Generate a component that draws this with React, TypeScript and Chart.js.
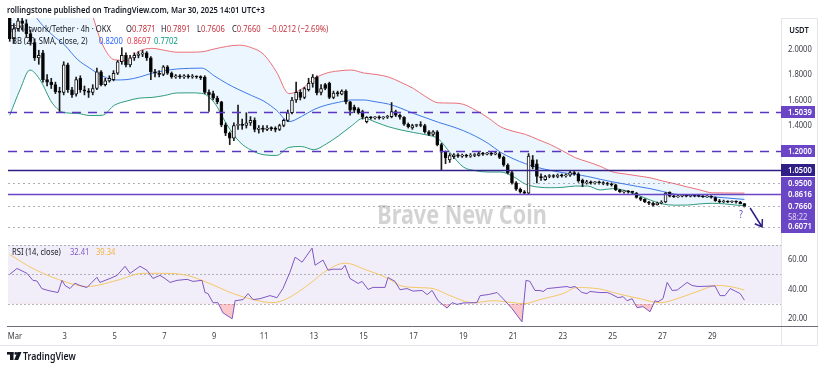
import React, { useEffect, useRef } from 'react';
import { Chart, registerables } from 'chart.js';

Chart.register(...registerables);

// ---- time: day number where Mar 1 00:00 = 1 ----
const firstCandleDay = 0.79; // Feb 28 19:00 (UTC+3)
const candleStepDay = 1 / 6; // 4h candles

// ---- OHLC (Pi Network / Tether, 4h, OKX) ----
const opens = [
  2.25, 2.08, 2.16, 2.22, 2.20, 2.12, 2.05, 1.93, 1.97, 1.76,
  1.74, 1.72, 1.665, 1.66, 1.875, 1.68, 1.645, 1.77, 1.68, 1.67,
  1.66, 1.69, 1.82, 1.72, 1.75, 1.76, 1.81, 1.90, 1.95, 1.875,
  1.93, 1.95, 1.96, 1.97, 1.93, 1.82, 1.81, 1.80, 1.86, 1.81,
  1.78, 1.79, 1.78, 1.79, 1.78, 1.785, 1.78, 1.78, 1.66, 1.65,
  1.615, 1.585, 1.405, 1.34, 1.30, 1.40, 1.41, 1.40, 1.42, 1.44,
  1.37, 1.38, 1.37, 1.38, 1.375, 1.37, 1.40, 1.44, 1.50, 1.60,
  1.66, 1.62, 1.68, 1.73, 1.78, 1.66, 1.72, 1.73, 1.62, 1.655,
  1.645, 1.67, 1.585, 1.545, 1.53, 1.51, 1.43, 1.465, 1.46, 1.465,
  1.46, 1.465, 1.47, 1.51, 1.48, 1.465, 1.41, 1.38, 1.40, 1.405,
  1.40, 1.35, 1.33, 1.35, 1.25, 1.19, 1.13, 1.155, 1.17, 1.16,
  1.165, 1.16, 1.165, 1.165, 1.18, 1.175, 1.18, 1.175, 1.18, 1.15,
  1.09, 1.03, 0.95, 0.90, 0.88, 0.87, 1.13, 1.10, 1.00, 0.975,
  1.00, 1.005, 1.00, 1.01, 1.005, 1.01, 1.03, 1.02, 0.97, 0.95,
  0.955, 0.95, 0.955, 0.95, 0.945, 0.94, 0.935, 0.895, 0.88, 0.885,
  0.88, 0.87, 0.835, 0.82, 0.80, 0.79, 0.78, 0.79, 0.80, 0.875,
  0.845, 0.84, 0.845, 0.85, 0.845, 0.85, 0.848, 0.845, 0.84, 0.842,
  0.835, 0.81, 0.80, 0.805, 0.80, 0.805, 0.80, 0.7871,
];
const highs = [
  2.28, 2.20, 2.26, 2.27, 2.23, 2.15, 2.08, 1.99, 1.99, 1.80,
  1.77, 1.74, 1.70, 1.90, 1.89, 1.70, 1.78, 1.79, 1.71, 1.69,
  1.72, 1.85, 1.83, 1.77, 1.79, 1.83, 1.91, 2.01, 1.97, 1.95,
  1.97, 1.98, 1.99, 1.98, 1.94, 1.84, 1.83, 1.87, 1.87, 1.82,
  1.80, 1.80, 1.80, 1.80, 1.80, 1.79, 1.79, 1.79, 1.68, 1.67,
  1.63, 1.59, 1.42, 1.35, 1.42, 1.56, 1.45, 1.50, 1.47, 1.46,
  1.40, 1.40, 1.40, 1.39, 1.39, 1.41, 1.45, 1.52, 1.62, 1.74,
  1.68, 1.70, 1.77, 1.80, 1.79, 1.72, 1.73, 1.74, 1.67, 1.67,
  1.68, 1.68, 1.59, 1.56, 1.54, 1.52, 1.47, 1.47, 1.47, 1.475,
  1.47, 1.48, 1.58, 1.52, 1.49, 1.47, 1.42, 1.41, 1.41, 1.43,
  1.41, 1.36, 1.36, 1.36, 1.26, 1.20, 1.18, 1.18, 1.18, 1.175,
  1.175, 1.18, 1.18, 1.19, 1.19, 1.19, 1.19, 1.19, 1.19, 1.16,
  1.10, 1.04, 0.96, 0.91, 0.89, 1.18, 1.165, 1.13, 1.02, 1.01,
  1.015, 1.015, 1.02, 1.02, 1.02, 1.04, 1.04, 1.03, 0.98, 0.97,
  0.965, 0.96, 0.965, 0.96, 0.955, 0.95, 0.94, 0.90, 0.89, 0.89,
  0.885, 0.875, 0.84, 0.825, 0.805, 0.80, 0.80, 0.81, 0.875, 0.88,
  0.855, 0.855, 0.86, 0.855, 0.86, 0.855, 0.855, 0.85, 0.85, 0.85,
  0.84, 0.82, 0.815, 0.81, 0.81, 0.81, 0.805, 0.7891,
];
const lows = [
  2.06, 2.05, 2.14, 2.15, 2.09, 2.03, 1.91, 1.88, 1.74, 1.71,
  1.69, 1.65, 1.51, 1.64, 1.66, 1.62, 1.63, 1.66, 1.64, 1.62,
  1.64, 1.68, 1.71, 1.71, 1.74, 1.75, 1.80, 1.88, 1.86, 1.86,
  1.91, 1.93, 1.94, 1.91, 1.76, 1.78, 1.78, 1.79, 1.80, 1.77,
  1.77, 1.77, 1.77, 1.77, 1.77, 1.77, 1.76, 1.65, 1.51, 1.60,
  1.57, 1.39, 1.32, 1.25, 1.28, 1.37, 1.37, 1.38, 1.40, 1.35,
  1.34, 1.35, 1.36, 1.36, 1.35, 1.36, 1.39, 1.43, 1.49, 1.58,
  1.60, 1.61, 1.67, 1.70, 1.64, 1.64, 1.68, 1.61, 1.61, 1.63,
  1.64, 1.57, 1.48, 1.50, 1.49, 1.45, 1.42, 1.45, 1.45, 1.45,
  1.45, 1.455, 1.46, 1.47, 1.45, 1.40, 1.38, 1.37, 1.39, 1.39,
  1.34, 1.32, 1.32, 1.24, 1.05, 1.10, 1.11, 1.14, 1.15, 1.15,
  1.15, 1.15, 1.155, 1.16, 1.165, 1.17, 1.165, 1.17, 1.14, 1.08,
  1.02, 0.94, 0.89, 0.87, 0.86, 0.86, 1.06, 0.95, 0.97, 0.97,
  0.99, 0.99, 0.99, 0.995, 0.995, 1.00, 1.01, 0.955, 0.92, 0.94,
  0.94, 0.94, 0.94, 0.935, 0.93, 0.925, 0.89, 0.875, 0.87, 0.87,
  0.865, 0.83, 0.81, 0.795, 0.78, 0.765, 0.775, 0.785, 0.795, 0.84,
  0.835, 0.835, 0.84, 0.84, 0.84, 0.84, 0.84, 0.835, 0.835, 0.83,
  0.805, 0.795, 0.795, 0.795, 0.795, 0.79, 0.785, 0.7606,
];
const closes = [
  2.08, 2.16, 2.22, 2.20, 2.12, 2.06, 1.93, 1.95, 1.76, 1.74,
  1.72, 1.665, 1.66, 1.875, 1.68, 1.64, 1.76, 1.68, 1.67, 1.66,
  1.69, 1.82, 1.72, 1.75, 1.77, 1.81, 1.90, 1.95, 1.875, 1.93,
  1.95, 1.96, 1.97, 1.93, 1.82, 1.81, 1.80, 1.86, 1.81, 1.78,
  1.79, 1.78, 1.79, 1.78, 1.785, 1.78, 1.775, 1.66, 1.64, 1.615,
  1.585, 1.405, 1.34, 1.30, 1.40, 1.41, 1.40, 1.42, 1.44, 1.37,
  1.38, 1.37, 1.38, 1.375, 1.37, 1.40, 1.44, 1.50, 1.60, 1.66,
  1.62, 1.69, 1.73, 1.78, 1.655, 1.69, 1.69, 1.62, 1.655, 1.65,
  1.67, 1.585, 1.52, 1.52, 1.50, 1.465, 1.465, 1.46, 1.465, 1.46,
  1.465, 1.47, 1.51, 1.48, 1.465, 1.41, 1.39, 1.40, 1.405, 1.40,
  1.35, 1.33, 1.35, 1.25, 1.19, 1.145, 1.165, 1.17, 1.16, 1.165,
  1.16, 1.165, 1.17, 1.18, 1.175, 1.18, 1.175, 1.18, 1.15, 1.09,
  1.03, 0.95, 0.90, 0.88, 0.87, 1.16, 1.075, 1.00, 0.99, 1.00,
  1.005, 1.00, 1.01, 1.005, 1.01, 1.03, 1.02, 0.965, 0.95, 0.955,
  0.95, 0.955, 0.95, 0.945, 0.94, 0.935, 0.895, 0.88, 0.885, 0.88,
  0.875, 0.835, 0.82, 0.80, 0.79, 0.775, 0.79, 0.795, 0.87, 0.845,
  0.84, 0.845, 0.85, 0.845, 0.85, 0.848, 0.845, 0.84, 0.842, 0.838,
  0.81, 0.80, 0.805, 0.80, 0.805, 0.80, 0.787, 0.766,
];

// ---- Bollinger Bands (20, SMA, close, 2) ----
const bbDays = [
  0.79, 1.2, 1.6, 2.0, 2.5, 3.0, 3.5, 4.0, 4.5, 5.0, 5.5, 6.0, 6.5, 7.0, 7.5, 8.0, 8.5, 9.0, 9.5, 10.0,
  10.5, 11.0, 11.5, 12.0, 12.5, 13.0, 13.5, 14.0, 14.5, 15.0, 15.5, 16.0, 16.5, 17.0, 17.5, 18.0, 18.5, 19.0, 19.5, 20.0,
  20.5, 21.0, 21.5, 22.0, 22.5, 23.0, 23.5, 24.0, 24.5, 25.0, 25.5, 26.0, 26.5, 27.0, 27.5, 28.0, 28.5, 29.0, 29.5, 30.0, 30.29,
];
const bbUpper = [
  2.75, 2.75, 2.72, 2.68, 2.62, 2.55, 2.45, 2.32, 2.04, 1.915, 1.91, 1.985, 2.005, 1.99, 1.975, 1.975, 1.978, 2.0, 2.02, 2.03,
  2.01, 1.955, 1.82, 1.65, 1.685, 1.765, 1.81, 1.828, 1.835, 1.812, 1.80, 1.78, 1.738, 1.69, 1.625, 1.578, 1.576, 1.566, 1.52, 1.46,
  1.39, 1.355, 1.33, 1.29, 1.25, 1.20, 1.148, 1.115, 1.08, 1.036, 1.02, 1.005, 0.99, 0.965, 0.943, 0.918, 0.895, 0.872, 0.871, 0.870, 0.8697,
];
const bbBasis = [
  2.45, 2.40, 2.32, 2.21, 2.11, 2.03, 1.92, 1.85, 1.79, 1.757, 1.76, 1.78, 1.81, 1.83, 1.843, 1.848, 1.85, 1.79, 1.73, 1.68,
  1.635, 1.59, 1.52, 1.43, 1.47, 1.525, 1.56, 1.582, 1.60, 1.60, 1.585, 1.568, 1.535, 1.495, 1.46, 1.425, 1.395, 1.36, 1.315, 1.26,
  1.19, 1.14, 1.10, 1.07, 1.048, 1.03, 1.016, 1.0, 0.978, 0.958, 0.94, 0.922, 0.905, 0.883, 0.862, 0.852, 0.845, 0.84, 0.833, 0.825, 0.82,
];
const bbLower = [
  1.48, 1.68, 1.835, 1.76, 1.575, 1.50, 1.495, 1.478, 1.48, 1.56, 1.592, 1.615, 1.62, 1.635, 1.655, 1.656, 1.652, 1.58, 1.41, 1.275,
  1.205, 1.17, 1.165, 1.228, 1.235, 1.21, 1.255, 1.32, 1.395, 1.458, 1.425, 1.39, 1.365, 1.345, 1.327, 1.295, 1.18, 1.075, 1.045, 1.035,
  1.035, 1.0, 0.94, 0.917, 0.912, 0.915, 0.925, 0.925, 0.894, 0.905, 0.89, 0.855, 0.816, 0.785, 0.775, 0.776, 0.785, 0.79, 0.785, 0.775, 0.7702,
];

// ---- RSI (14, close) and its MA ----
const rsiDays = [
  0.79, 1.08, 1.48, 1.72, 1.88, 2.08, 2.33, 2.73, 2.89, 3.01, 3.21, 3.41, 3.61, 3.89, 4.09, 4.29, 4.41, 4.82, 5.10, 5.42,
  5.62, 6.02, 6.30, 6.54, 6.82, 7.02, 7.23, 7.51, 7.91, 8.15, 8.51, 8.63, 8.75, 8.95, 9.15, 9.35, 9.72, 9.84, 10.16, 10.36,
  10.56, 10.84, 11.24, 11.52, 11.76, 12.04, 12.25, 12.53, 12.93, 13.05, 13.37, 13.57, 13.77, 14.13, 14.25, 14.45, 14.78, 14.94, 15.18, 15.38,
  15.86, 15.98, 16.26, 16.46, 16.74, 16.98, 17.35, 17.55, 17.75, 17.99, 18.35, 18.55, 18.75, 18.99, 19.55, 19.68, 20.0, 20.36, 20.6, 20.96,
  21.36, 21.52, 21.68, 21.88, 22.08, 22.21, 22.37, 22.77, 23.17, 23.29, 23.49, 23.77, 23.97, 24.09, 24.49, 24.78, 24.9, 25.22, 25.42, 25.58,
  25.78, 25.98, 26.22, 26.5, 26.7, 26.82, 27.02, 27.19, 27.39, 27.59, 27.99, 28.19, 28.43, 29.11, 29.31, 29.51, 29.72, 29.92, 30.12, 30.29,
];
const rsiValues = [
  50, 54, 50.7, 45.9, 45.5, 40.3, 39, 37.6, 45.9, 42.4, 40.3, 44, 42.4, 41, 44.5, 48, 44.5, 47.2, 49.3, 55.5,
  50.7, 55.5, 52.8, 47.2, 49.3, 47.2, 44.5, 45.9, 46.6, 45.2, 45.9, 37.6, 36.9, 30.7, 30.7, 23.8, 19.7, 32, 32.8, 36.9,
  32.8, 33.4, 35.5, 34.1, 40.3, 51.4, 61.7, 58.3, 67.9, 56.2, 59.7, 52.8, 53.5, 53.5, 56.2, 47.2, 43.8, 45.2, 39.7, 41.1,
  41.1, 47.9, 45.2, 39.5, 40.3, 38.6, 39, 36.2, 39, 32, 27, 30.7, 29.5, 30.5, 30.7, 35.5, 36.2, 37.6, 33.4, 26.6,
  17.6, 45.9, 45.2, 39, 39, 38.3, 40.3, 41, 41.7, 41, 41.7, 37.6, 36.9, 38.3, 37.6, 37.6, 36.9, 34.1, 34.8, 32,
  33.4, 27.3, 28, 24.5, 32, 31.3, 33.4, 44.5, 39, 39.3, 44.5, 42.4, 41.7, 42.1, 35.5, 35.5, 40.3, 38.6, 36.9, 32.41,
];
const rsiMaDays = [
  0.79, 1.72, 3.09, 3.89, 5.10, 6.14, 6.94, 7.91, 8.71, 9.76, 10.56, 11.36, 11.92, 12.85, 13.53, 14.25, 15.14, 15.98, 16.46,
  17.15, 17.79, 18.47, 19.39, 20.2, 21.0, 21.4, 22.21, 23.01, 23.57, 24.49, 25.18, 26.1, 26.9, 27.71, 28.51, 29.19, 29.72, 30.29,
];
const rsiMaValues = [
  63.5, 54, 44.5, 41.7, 45.9, 50.7, 50.7, 49.3, 44.5, 36.9, 32.8, 30.7, 33.4, 43.8, 52.8, 57.6, 52.8, 47.2, 42.4,
  41, 40.3, 35.5, 30.7, 32, 30.7, 30, 33.4, 36.9, 41, 40, 36.9, 33.4, 30.7, 34.1, 39, 42.4, 41.7, 39.34,
];

// ---- axes ----
const xTickDays = [1, 3, 5, 7, 9, 11, 13, 15, 17, 19, 21, 23, 25, 27, 29];
const xTickLabels = ['Mar', '3', '5', '7', '9', '11', '13', '15', '17', '19', '21', '23', '25', '27', '29'];
const priceTicks = [1.4, 1.6, 1.8, 2.0];
const rsiTicks = [20, 40, 60];
const rsiBands = [70, 50, 30];
const dayRange = { min: 0.72, max: 31.8 };
const priceRange = { min: 0.502, max: 2.243 };
const rsiRange = { min: 14.8, max: 73.4 };

// ---- drawings ----
const dashedLevels = [1.5039, 1.2];
const solidLevels = [1.05, 0.8616];
const dottedLevels = [0.95, 0.766, 0.6071];
const tagLevels = [1.5039, 1.2, 1.05, 0.95, 0.8616, 0.6071];
const countdown = '58:22';
const arrowFrom = { day: 30.52, price: 0.753 };
const arrowTo = { day: 31.0, price: 0.604 };
const questionMark = { day: 30.15, price: 0.695 };

const header = 'rollingstone published on TradingView.com, Mar 30, 2025 14:01 UTC+3';
const symbolTitle = 'Pi Network/Tether · 4h · OKX';
const ohlcLabels = ['O', 'H', 'L', 'C'];
const ohlcValues = ['0.7871', '0.7891', '0.7606', '0.7660'];
const changeText = '−0.0212 (−2.69%)';
const bbTitle = 'BB (20, SMA, close, 2)';
const bbLegend = ['0.8200', '0.8697', '0.7702'];
const rsiTitle = 'RSI (14, close)';
const rsiLegend = ['32.41', '39.34'];

const FF = '"Noto Sans", "DejaVu Sans", sans-serif';
const SX = 0.8;
const PURPLE = '#6a46c6';
const DARK_PURPLE = '#2f1f86';

function txt(ctx: CanvasRenderingContext2D, s: string, x: number, y: number, size: number, color: string,
  weight = 'normal', align: CanvasTextAlign = 'left', sx = SX) {
  ctx.save();
  ctx.font = `${weight} ${size}px ${FF}`;
  ctx.fillStyle = color;
  ctx.textBaseline = 'middle';
  ctx.textAlign = align;
  ctx.translate(x, y);
  ctx.scale(sx, 1);
  ctx.fillText(s, 0, 0);
  const w = ctx.measureText(s).width * sx;
  ctx.restore();
  return w;
}

const decorPlugin = {
  id: 'decor',
  beforeDatasetsDraw(chart: any) {
    const { ctx, chartArea: ca } = chart;
    const yr = chart.scales.yr;
    // RSI band background
    ctx.save();
    ctx.fillStyle = 'rgba(126,87,194,0.10)';
    const t = yr.getPixelForValue(rsiBands[0]);
    const b = yr.getPixelForValue(rsiBands[2]);
    ctx.fillRect(ca.left, t, ca.right - ca.left, b - t);
    ctx.strokeStyle = 'rgba(120,123,134,0.55)';
    ctx.lineWidth = 1;
    ctx.setLineDash([2, 2]);
    for (const v of rsiBands) {
      const py = Math.round(yr.getPixelForValue(v)) + 0.5;
      ctx.beginPath();
      ctx.moveTo(ca.left, py);
      ctx.lineTo(ca.right, py);
      ctx.stroke();
    }
    ctx.restore();
    // watermark
    txt(ctx, 'Brave New Coin', 462, 216, 27, 'rgba(140,140,140,0.38)', 'bold', 'center');
  },
  afterDatasetsDraw(chart: any) {
    const { ctx, chartArea: ca } = chart;
    const y = chart.scales.y;
    const x = chart.scales.x;
    const hline = (v: number, color: string, width: number, dash: number[]) => {
      const py = Math.round(y.getPixelForValue(v)) + 0.5;
      ctx.save();
      ctx.strokeStyle = color;
      ctx.lineWidth = width;
      ctx.setLineDash(dash);
      ctx.beginPath();
      ctx.moveTo(ca.left, py);
      ctx.lineTo(ca.right, py);
      ctx.stroke();
      ctx.restore();
    };
    for (const v of dottedLevels) hline(v, 'rgba(120,123,134,0.6)', 1, [2, 3]);
    for (const v of dashedLevels) hline(v, '#5a37c0', 1.6, [9, 7]);
    hline(solidLevels[0], DARK_PURPLE, 1.6, []);
    hline(solidLevels[1], PURPLE, 1.4, []);

    // arrow
    const x1 = x.getPixelForValue(arrowFrom.day), y1 = y.getPixelForValue(arrowFrom.price);
    const x2 = x.getPixelForValue(arrowTo.day), y2 = y.getPixelForValue(arrowTo.price);
    const ang = Math.atan2(y2 - y1, x2 - x1);
    ctx.save();
    ctx.strokeStyle = DARK_PURPLE;
    ctx.lineWidth = 1.5;
    ctx.beginPath();
    ctx.moveTo(x1, y1);
    ctx.lineTo(x2, y2);
    ctx.moveTo(x2 - 8 * Math.cos(ang - 0.6), y2 - 8 * Math.sin(ang - 0.6));
    ctx.lineTo(x2, y2);
    ctx.lineTo(x2 - 8 * Math.cos(ang + 0.6), y2 - 8 * Math.sin(ang + 0.6));
    ctx.stroke();
    ctx.restore();
    txt(ctx, '?', x.getPixelForValue(questionMark.day), y.getPixelForValue(questionMark.price), 10, '#5a37c0', 'normal', 'center');
  },
  afterDraw(chart: any) {
    const { ctx, chartArea: ca } = chart;
    const y = chart.scales.y;
    const yr = chart.scales.yr;
    const x = chart.scales.x;
    const axL = ca.right;

    // axis column frame
    ctx.save();
    ctx.strokeStyle = '#e3e5ea';
    ctx.lineWidth = 1;
    ctx.beginPath();
    ctx.moveTo(axL - 0.5, ca.top);
    ctx.lineTo(axL - 0.5, 345.5);
    ctx.moveTo(axL - 0.5, ca.top + 0.5);
    ctx.lineTo(817.5, ca.top + 0.5);
    ctx.lineTo(817.5, 345.5);
    ctx.moveTo(0, 345.5);
    ctx.lineTo(817.5, 345.5);
    ctx.stroke();
    // time axis line
    ctx.strokeStyle = '#6b6e78';
    ctx.beginPath();
    ctx.moveTo(7, Math.round(ca.bottom) + 0.5);
    ctx.lineTo(818, Math.round(ca.bottom) + 0.5);
    ctx.stroke();
    ctx.restore();

    // price axis labels
    txt(ctx, 'USDT', 799, 30, 9.5, '#131722', '600', 'center');
    for (const t of y.ticks) {
      txt(ctx, t.value.toFixed(4), axL + 6, y.getPixelForValue(t.value), 9.5, '#3a3d46');
    }
    for (const t of yr.ticks) {
      txt(ctx, t.value.toFixed(2), axL + 6, yr.getPixelForValue(t.value), 9.5, '#3a3d46');
    }
    // price tags
    const last = closes[closes.length - 1];
    ctx.save();
    for (const v of tagLevels) {
      const py = y.getPixelForValue(v);
      ctx.fillStyle = v === solidLevels[0] ? DARK_PURPLE : PURPLE;
      ctx.fillRect(axL - 1, Math.round(py) - 6, 34, 12);
    }
    const lp = y.getPixelForValue(last);
    ctx.fillStyle = PURPLE;
    ctx.fillRect(axL - 1, Math.round(lp) - 6, 34, 23);
    ctx.restore();
    for (const v of tagLevels) {
      txt(ctx, v.toFixed(4), axL + 6, y.getPixelForValue(v), 9.5, '#ffffff', '600');
    }
    txt(ctx, last.toFixed(4), axL + 6, lp, 9.5, '#ffffff', '600');
    txt(ctx, countdown, axL + 6, lp + 11, 9.5, 'rgba(255,255,255,0.78)');

    // time labels
    x.ticks.forEach((t: any) => {
      const i = xTickDays.indexOf(t.value);
      txt(ctx, xTickLabels[i], x.getPixelForValue(t.value), 336.5, 9.5, '#3a3d46', 'normal', 'center');
    });

    // header and legends
    txt(ctx, header, 7, 10.5, 9.5, '#131722', '600');
    txt(ctx, symbolTitle, 10, 29.5, 9.5, '#131722');
    const ohlcX = [126, 161, 197, 232];
    ohlcLabels.forEach((l, i) => {
      const w = txt(ctx, l, ohlcX[i], 29.5, 9.5, '#131722');
      txt(ctx, ohlcValues[i], ohlcX[i] + w, 29.5, 9.5, '#c4313c');
    });
    txt(ctx, changeText, 268, 29.5, 9.5, '#c4313c');
    txt(ctx, bbTitle, 12, 41.5, 9.5, '#131722');
    const bbCols = ['#2962ff', '#e5394a', '#089981'];
    const bbX = [99, 127, 154];
    bbLegend.forEach((s, i) => txt(ctx, s, bbX[i], 41.5, 9.5, bbCols[i]));
    txt(ctx, rsiTitle, 12, 252.5, 9.5, '#131722');
    txt(ctx, rsiLegend[0], 70, 252.5, 9.5, '#7e57c2');
    txt(ctx, rsiLegend[1], 96, 252.5, 9.5, '#f2b43c');

    // TradingView logo
    ctx.save();
    ctx.fillStyle = '#131722';
    ctx.fillRect(7, 352, 6.5, 2.6);
    ctx.fillRect(10, 352, 3.5, 8);
    ctx.beginPath();
    ctx.arc(15.8, 353.4, 1.4, 0, Math.PI * 2);
    ctx.fill();
    ctx.beginPath();
    ctx.moveTo(17.5, 352);
    ctx.lineTo(21.5, 352);
    ctx.lineTo(18.2, 360);
    ctx.lineTo(14.2, 360);
    ctx.closePath();
    ctx.fill();
    ctx.restore();
    txt(ctx, 'TradingView', 23, 356.5, 11, '#131722', '600');
  },
};

export default function App() {
  const ref = useRef<HTMLCanvasElement>(null);
  useEffect(() => {
    const candleDays = closes.map((_, i) => firstCandleDay + i * candleStepDay);
    const pts = (xs: number[], ys: number[]) => xs.map((d, i) => ({ x: d, y: ys[i] }));
    const isUp = (i: number) => closes[i] >= opens[i];
    const chart = new Chart(ref.current as HTMLCanvasElement, {
      type: 'bar',
      data: {
        datasets: [
          {
            type: 'line', label: 'BB upper', yAxisID: 'y', data: pts(bbDays, bbUpper),
            borderColor: '#ec6f78', borderWidth: 1, pointRadius: 0, cubicInterpolationMode: 'monotone',
            fill: { target: 2 }, backgroundColor: 'rgba(33,150,243,0.09)', order: 6,
          },
          {
            type: 'line', label: 'BB basis', yAxisID: 'y', data: pts(bbDays, bbBasis),
            borderColor: '#3f79e8', borderWidth: 1, pointRadius: 0, cubicInterpolationMode: 'monotone', fill: false, order: 5,
          },
          {
            type: 'line', label: 'BB lower', yAxisID: 'y', data: pts(bbDays, bbLower),
            borderColor: '#2f9a7c', borderWidth: 1, pointRadius: 0, cubicInterpolationMode: 'monotone', fill: false, order: 5,
          },
          {
            type: 'bar', label: 'wicks', yAxisID: 'y',
            data: candleDays.map((d, i) => ({ x: d, y: [lows[i], highs[i]] })) as any,
            backgroundColor: '#1c1c1c', barThickness: 1, grouped: false, order: 2,
          },
          {
            type: 'bar', label: 'bodies', yAxisID: 'y',
            data: candleDays.map((d, i) => ({ x: d, y: [opens[i], closes[i]] })) as any,
            backgroundColor: (c: any) => (isUp(c.dataIndex) ? '#ffffff' : '#000000'),
            borderColor: '#111111', borderWidth: 1, borderSkipped: false, barThickness: 3,
            minBarLength: 1, grouped: false, order: 1,
          },
          {
            type: 'line', label: 'RSI', yAxisID: 'yr', data: pts(rsiDays, rsiValues),
            borderColor: '#7e57c2', borderWidth: 1, pointRadius: 0,
            fill: { target: { value: 30 }, above: 'rgba(0,0,0,0)', below: 'rgba(242,54,69,0.28)' }, order: 1,
          },
          {
            type: 'line', label: 'RSI MA', yAxisID: 'yr', data: pts(rsiMaDays, rsiMaValues),
            borderColor: '#f4c766', borderWidth: 1, pointRadius: 0, cubicInterpolationMode: 'monotone', fill: false, order: 2,
          },
        ] as any,
      },
      options: {
        animation: false,
        responsive: false,
        devicePixelRatio: 1,
        events: [],
        layout: { padding: { left: 8, top: 18, right: 0, bottom: 44 } },
        plugins: { legend: { display: false }, tooltip: { enabled: false } },
        scales: {
          x: {
            type: 'linear', min: dayRange.min, max: dayRange.max, offset: false,
            grid: { display: false, drawTicks: false }, border: { display: false }, ticks: { display: false },
            afterBuildTicks: (s: any) => { s.ticks = xTickDays.map((v) => ({ value: v })); },
            afterFit: (s: any) => { s.height = 0; },
          },
          y: {
            type: 'linear', position: 'right', stack: 'panes', stackWeight: 222,
            min: priceRange.min, max: priceRange.max,
            grid: { display: false, drawTicks: false }, border: { display: false }, ticks: { display: false },
            afterBuildTicks: (s: any) => { s.ticks = priceTicks.map((v) => ({ value: v })); },
            afterFit: (s: any) => { s.width = 43; },
          },
          yr: {
            type: 'linear', position: 'right', stack: 'panes', stackWeight: 86,
            min: rsiRange.min, max: rsiRange.max,
            grid: { display: false, drawTicks: false }, border: { display: false }, ticks: { display: false },
            afterBuildTicks: (s: any) => { s.ticks = rsiTicks.map((v) => ({ value: v })); },
            afterFit: (s: any) => { s.width = 43; },
          },
        } as any,
      },
      plugins: [decorPlugin],
    } as any);
    return () => chart.destroy();
  }, []);
  return (
    <div style={{ position: 'absolute', left: 0, top: 0, width: 825, height: 370, background: '#ffffff' }}>
      <canvas ref={ref} width={825} height={370} style={{ display: 'block', width: 825, height: 370 }} />
    </div>
  );
}
